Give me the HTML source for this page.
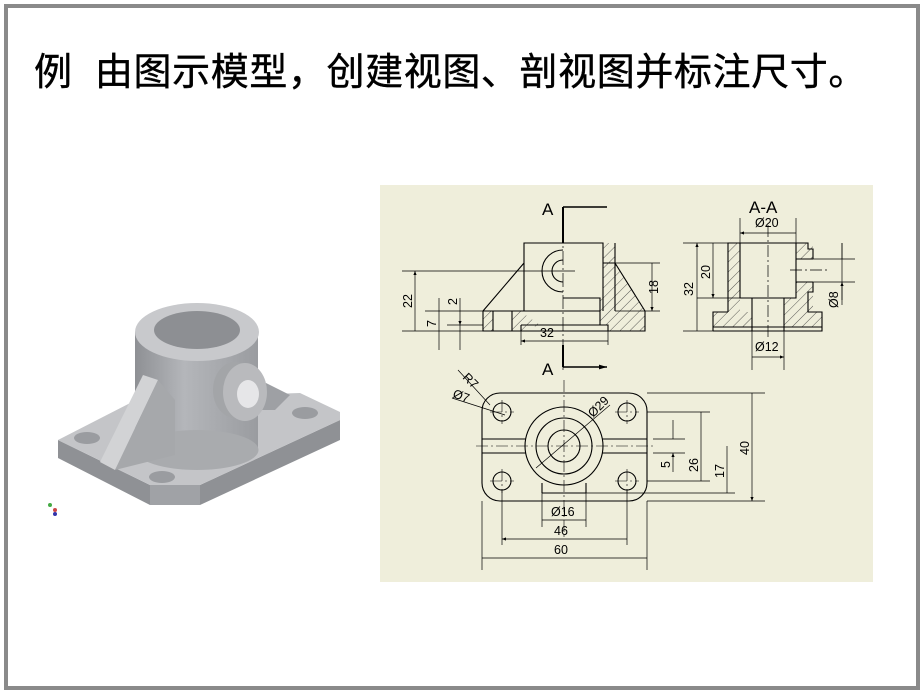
<!DOCTYPE html>
<html><head><meta charset="utf-8"><style>
html,body{margin:0;padding:0;background:#fff;}
.wrap{position:relative;width:920px;height:690px;overflow:hidden;background:#fff;}
.frame{position:absolute;left:4px;top:4px;width:908px;height:678px;border:4px solid #8a8a8a;box-sizing:content-box;}
.title{position:absolute;left:34px;top:50px;font-family:"Liberation Sans","Noto Sans CJK SC",sans-serif;font-size:38px;line-height:46px;color:#000;white-space:nowrap;letter-spacing:0.6px;-webkit-text-stroke:0.4px #000;}
svg{position:absolute;left:0;top:0;}
</style></head><body><div class="wrap">
<div class="frame"></div>
<div class="title">例&nbsp;&nbsp;由图示模型，创建视图、剖视图并标注尺寸。</div>
<svg width="920" height="690" viewBox="0 0 920 690" font-family="Liberation Sans, sans-serif">
<defs>
<pattern id="h" width="7" height="7" patternUnits="userSpaceOnUse" patternTransform="rotate(45)"><line x1="0" y1="0" x2="0" y2="7" stroke="#333" stroke-width="0.8"/></pattern>
<marker id="ar" viewBox="0 0 10 10" refX="10" refY="5" markerWidth="8" markerHeight="4" markerUnits="userSpaceOnUse" orient="auto-start-reverse"><path d="M0,1 L10,5 L0,9z" fill="#000"/></marker>
<marker id="big" viewBox="0 0 10 10" refX="10" refY="5" markerWidth="16" markerHeight="8" markerUnits="userSpaceOnUse" orient="auto"><path d="M0,2 L10,5 L0,8z" fill="#000"/></marker>
<linearGradient id="cyl" x1="0" x2="1"><stop offset="0" stop-color="#8e9094"/><stop offset="0.4" stop-color="#b4b6ba"/><stop offset="1" stop-color="#9a9ca0"/></linearGradient>
</defs>
<g>
<polygon points="58,440 58,458 150,505 200,505 340,440 340,420 200,485 150,485" fill="#8f9195"/>
<polygon points="150,485 150,505 200,505 200,485" fill="#a0a2a6"/>
<polygon points="58,440 140,398 300,393 340,412 340,420 200,485 150,485" fill="#c4c5c8"/>
<ellipse cx="87" cy="438" rx="13" ry="6" fill="#9a9ca0"/>
<ellipse cx="162" cy="477" rx="13" ry="6" fill="#9a9ca0"/>
<ellipse cx="305" cy="413" rx="13" ry="6" fill="#9a9ca0"/>
<polygon points="250,375 290,395 275,410 250,410" fill="#9ea0a4"/>
<rect x="135" y="332" width="123" height="118" fill="url(#cyl)"/>
<ellipse cx="197" cy="450" rx="61.5" ry="20" fill="#a9abae"/>
<polygon points="143,375 158,380 115,470 100,462" fill="#d2d3d5"/>
<polygon points="158,380 175,400 175,455 115,470" fill="#a6a8ab"/>
<ellipse cx="197" cy="332" rx="62" ry="29" fill="#c8c9cc"/>
<ellipse cx="197" cy="330" rx="43" ry="19" fill="#8d8f93"/>
<ellipse cx="235" cy="390" rx="22" ry="28" fill="#a3a5a8"/>
<ellipse cx="245" cy="392" rx="22" ry="29" fill="#b9babd"/>
<ellipse cx="248" cy="394" rx="11" ry="14" fill="#e6e6e8"/>
<circle cx="50" cy="505" r="2" fill="#4a4"/><circle cx="55" cy="510" r="2" fill="#c44"/><circle cx="55" cy="514" r="2" fill="#33a"/>
</g>
<rect x="380" y="185" width="493" height="397" fill="#efeedb"/>
<g stroke="#000" fill="none" stroke-width="1.1">
<rect x="603" y="243" width="12" height="68" fill="url(#h)" stroke="none"/>
<polygon points="603,311 645,311 645,331 608,331 608,325 600,325 600,298 603,298" fill="url(#h)" stroke="none"/>
<polygon points="615,263 645,311 615,311" fill="url(#h)" stroke="none"/>
<polygon points="483,311 493,311 493,331 483,331" fill="url(#h)" stroke="none"/>
<polygon points="512,311 520,311 540,325 520,331 512,331" fill="url(#h)" stroke="none"/>
<path d="M524,311 V243 H603 V311 M524,263 L483,311 V331 H521 M483,311 H600 M603,263 H615 L645,311 V331 H608 M521,325 H608 V331 H521 V325 M615,243 V311 M493,311 V331 M512,311 V331 M563,298 H600 V325"/>
<path d="M563,250 A21,21 0 0,0 563,292 M563,260 A11,11 0 0,0 563,282" />
<path d="M563,207 V370" stroke-dasharray="14,3,2,3" stroke-width="0.7"/>
<path d="M563,207 V243 M563,345 V367" stroke-width="2"/>
<path d="M563,207 H607 M563,367 H607" marker-end="url(#big)" stroke-width="1.5"/>
<path d="M402,271 H575 M425,311 H483 M447,325 H483 M402,331 H483 M521,331 V345 M608,331 V345 M603,263 H660 M615,311 H660" stroke-width="0.7"/>
<path d="M415,271 V331 M439,311 V325 M460,311 V325" stroke-width="0.7" marker-start="url(#ar)" marker-end="url(#ar)"/>
<path d="M439,298 V311 M439,325 V350 M460,298 V311 M460,325 V350" stroke-width="0.7"/>
<path d="M521,341 H608 M652,263 V311" stroke-width="0.7" marker-start="url(#ar)" marker-end="url(#ar)"/>
<rect x="728" y="243" width="12" height="69" fill="url(#h)" stroke="none"/>
<polygon points="713,312 752,312 752,327 713,327" fill="url(#h)" stroke="none"/>
<polygon points="784,298 796,298 796,243 813,243 813,259 796,259 796,282 813,282 813,312 822,312 822,327 784,327" fill="url(#h)" stroke="none"/>
<path d="M728,312 V243 H808 V249 H813 V259 M813,282 V292 H808 V312 H822 V327 H713 V312 H728 M713,331 H822 V327 M713,327 V331 M740,243 V298 H796 V243 M752,298 V331 M784,298 V331 M796,259 H813 M796,282 H813"/>
<path d="M768,225 V340 M790,270 H828" stroke-dasharray="12,3,2,3" stroke-width="0.7"/>
<path d="M683,243 H728 M697,298 H740 M740,218 V243 M796,218 V243 M813,259 H855 M813,282 H855 M752,331 V370 M784,331 V370" stroke-width="0.7"/>
<path d="M697,243 V331 M713,243 V298" stroke-width="0.7" marker-start="url(#ar)" marker-end="url(#ar)"/>
<path d="M683,331 H713" stroke-width="0.7"/>
<path d="M740,233 H796 M752,357 H784" stroke-width="0.7" marker-start="url(#ar)" marker-end="url(#ar)"/>
<path d="M842,243 V259 M842,300 V282" stroke-width="0.7" marker-end="url(#ar)"/>
<path d="M842,243 V305" stroke-width="0.7"/>
<rect x="482" y="393" width="165" height="108" rx="18" ry="18"/>
<path d="M482,439 H526 M602,439 H647 M482,453 H526 M602,453 H647 M542,483 V493 M586,483 V493 M542,493 H586"/>
<circle cx="564" cy="446" r="39"/><circle cx="564" cy="446" r="28"/><circle cx="564" cy="446" r="16"/>
<circle cx="502" cy="412" r="9"/><circle cx="627" cy="412" r="9"/><circle cx="502" cy="481" r="9"/><circle cx="627" cy="481" r="9"/>
<path d="M564,380 V540 M476,446 H653 M490,412 H514 M615,412 H639 M490,481 H514 M615,481 H639 M502,400 V424 M627,400 V424 M502,469 V493 M627,469 V493" stroke-dasharray="12,3,2,3" stroke-width="0.6"/>
<path d="M647,393 H765 M647,412 H710 M653,439 H685 M653,453 H685 M647,481 H710 M586,493 H735 M647,501 H765 M482,501 V570 M647,501 V570 M502,490 V545 M627,490 V545 M542,493 V527 M586,493 V527 M536,468 L610,405 M458,370 L490,405 M452,398 L505,415" stroke-width="0.7"/>
<path d="M502,539 H627 M482,558 H647 M542,520 H586 M701,412 V481 M727,446 V493 M752,393 V501" stroke-width="0.7" marker-start="url(#ar)" marker-end="url(#ar)"/>
<path d="M673,420 V439 M673,472 V453" stroke-width="0.7" marker-end="url(#ar)"/>
</g>
<g font-size="12.5" fill="#000">
<text x="542" y="215" font-size="17">A</text>
<text x="542" y="375" font-size="17">A</text>
<text x="749" y="213" font-size="17">A-A</text>
<text x="755" y="227">Ø20</text>
<text x="755" y="351">Ø12</text>
<text x="540" y="337">32</text>
<text x="551" y="516">Ø16</text>
<text x="554" y="535">46</text>
<text x="554" y="554">60</text>
<text transform="translate(412,308) rotate(-90)">22</text>
<text transform="translate(436,327) rotate(-90)">7</text>
<text transform="translate(457,305) rotate(-90)">2</text>
<text transform="translate(658,294) rotate(-90)">18</text>
<text transform="translate(693,296) rotate(-90)">32</text>
<text transform="translate(710,279) rotate(-90)">20</text>
<text transform="translate(838,308) rotate(-90)">Ø8</text>
<text transform="translate(670,468) rotate(-90)">5</text>
<text transform="translate(698,472) rotate(-90)">26</text>
<text transform="translate(724,478) rotate(-90)">17</text>
<text transform="translate(749,455) rotate(-90)">40</text>
<text transform="translate(462,378) rotate(45)">R7</text>
<text transform="translate(452,397) rotate(20)">Ø7</text>
<text transform="translate(593,418) rotate(-45)">Ø29</text>
</g>
</svg>
</div></body></html>
